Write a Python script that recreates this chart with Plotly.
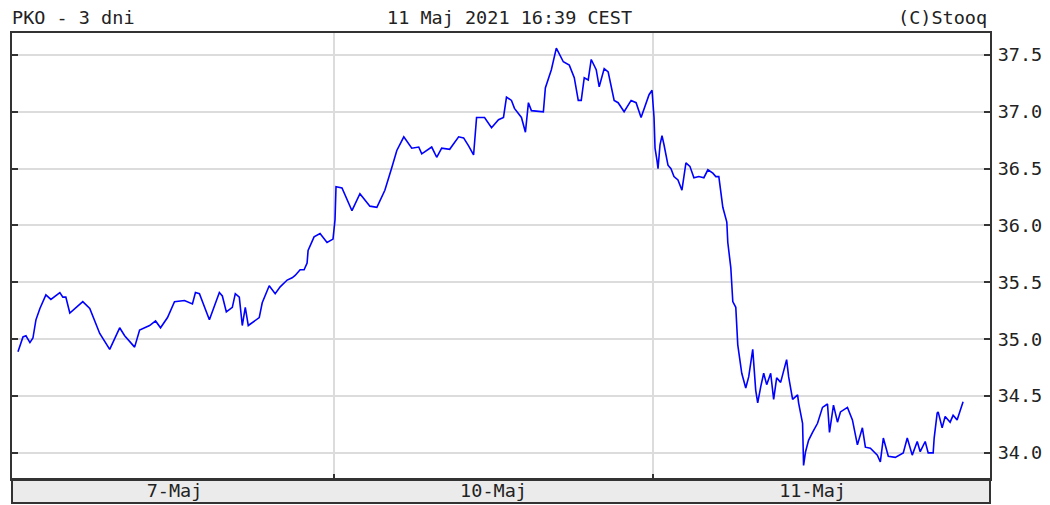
import plotly.graph_objects as go

# Trading-time minutes since 7-Maj 9:00 (480 min per session)
minutes = [4.5, 7.5, 12, 16.5, 22.5, 27, 31.5, 37.5, 46.5, 54, 67.5, 72, 76.5, 82.5, 102, 112.5,
           127.5, 142.5, 157.5, 165, 180, 187.5, 202.5, 211.5, 219, 229.5, 240, 255, 267, 271.5,
           277.5, 292.5, 307.5, 312, 318, 327, 331.5, 337.5, 342, 346.5, 351, 367.5, 372, 382.5,
           391.5, 399, 409.5, 417, 421.5, 429, 435, 439.5, 441, 450, 459, 469.5, 478.5,
           481.5, 483, 492, 496.5, 507, 519, 534, 544.5, 556.5, 567, 574.5, 585, 597, 607.5, 612,
           627, 634.5, 642, 654, 667.5, 675, 682.5, 690, 694.5, 706.5, 717, 727.5, 735, 739.5,
           747, 751.5, 762, 768, 772.5, 777, 795, 798, 807, 814.5, 825, 834, 841.5, 847.5, 852,
           856.5, 862.5, 867, 874.5, 879, 886.5, 892.5, 901.5, 907.5, 916.5, 927, 934.5, 942,
           954, 958.5, 961.5, 963, 966, 967.5, 970.5, 973.5, 976.5, 982.5, 987, 991.5, 997.5,
           1003.5, 1009.5, 1015.5, 1021.5, 1029, 1036.5, 1042.5, 1050, 1054.5, 1059, 1065, 1071,
           1072.5, 1077, 1080, 1084.5, 1087.5, 1093.5, 1099.5, 1104, 1110, 1114.5, 1117.5, 1122,
           1126.5, 1131, 1137, 1141.5, 1146, 1152, 1161, 1164, 1170, 1177.5, 1179, 1185, 1186.5,
           1189.5, 1194, 1200, 1207.5, 1215, 1222.5, 1225.5, 1231.5, 1237.5, 1242, 1252.5, 1260,
           1267.5, 1275, 1279.5, 1287, 1297.5, 1302, 1306.5, 1314, 1324.5, 1336.5, 1342.5, 1350,
           1357.5, 1362, 1369.5, 1374, 1381.5, 1383, 1387.5, 1389, 1395, 1399.5, 1407, 1411.5,
           1417.5, 1422, 1426.5]

price = [34.89, 34.95, 35.02, 35.03, 34.97, 35.01, 35.17, 35.27, 35.39, 35.35, 35.41, 35.37, 35.37,
         35.23, 35.33, 35.27, 35.05, 34.91, 35.10, 35.03, 34.93, 35.08, 35.12, 35.16, 35.10, 35.19,
         35.33, 35.34, 35.31, 35.41, 35.40, 35.17, 35.41, 35.38, 35.24, 35.28, 35.40, 35.37, 35.12,
         35.28, 35.12, 35.19, 35.32, 35.47, 35.40, 35.46, 35.52, 35.54, 35.56, 35.61, 35.61, 35.67,
         35.78, 35.90, 35.93, 35.85, 35.88,
         36.05, 36.34, 36.33, 36.27, 36.13, 36.28, 36.17, 36.16, 36.31, 36.51, 36.66, 36.78, 36.68,
         36.69, 36.63, 36.69, 36.60, 36.68, 36.67, 36.78, 36.77, 36.70, 36.62, 36.95, 36.95, 36.86,
         36.93, 36.95, 37.13, 37.10, 37.03, 36.95, 36.82, 37.08, 37.01, 37.00, 37.21, 37.37, 37.56,
         37.44, 37.41, 37.30, 37.10, 37.10, 37.30, 37.28, 37.46, 37.37, 37.22, 37.38, 37.35, 37.10,
         37.08, 37.00, 37.10, 37.08, 36.95, 37.15, 37.19, 36.95, 36.68, 36.57, 36.50, 36.71, 36.79,
         36.71, 36.53, 36.50, 36.43, 36.40, 36.31, 36.55, 36.52, 36.42, 36.43, 36.42, 36.49, 36.46,
         36.43, 36.43, 36.16, 36.03, 35.85, 35.63, 35.33, 35.28, 34.95, 34.70, 34.57, 34.67, 34.91,
         34.55, 34.44, 34.58, 34.70, 34.60, 34.70, 34.47, 34.66, 34.62, 34.82, 34.67, 34.47, 34.51,
         34.44, 34.26, 33.89, 34.01, 34.11, 34.18, 34.26, 34.40, 34.43, 34.18, 34.42, 34.27, 34.36,
         34.40, 34.29, 34.07, 34.22, 34.05, 34.04, 33.98, 33.92, 34.13, 33.97, 33.96, 34.00, 34.13,
         33.98, 34.10, 34.01, 34.10, 34.00, 34.00, 34.13, 34.35, 34.36, 34.22, 34.32, 34.27, 34.33,
         34.29, 34.38, 34.45]

day_labels = ["7-Maj", "10-Maj", "11-Maj"]
day_centers = [240, 720, 1200]
day_bounds = [480, 960]
y_ticks = [34.0, 34.5, 35.0, 35.5, 36.0, 36.5, 37.0, 37.5]

FONT = "DejaVu Sans Mono"
FS = 18.5
TXT = "#222222"

fig = go.Figure()
fig.add_trace(go.Scatter(x=minutes, y=price, mode="lines",
                         line=dict(color="#0000FF", width=1.6), hoverinfo="skip",
                         showlegend=False))

# page has an 8px body margin, so the figure is sized/positioned to compensate
fig.update_layout(
    width=1042, height=497,
    margin=dict(l=4, r=60, t=25, b=26, autoexpand=False),
    paper_bgcolor="white", plot_bgcolor="white",
    font=dict(family=FONT, size=FS, color=TXT),
    xaxis=dict(
        range=[-4.5, 1467], automargin=False,
        tickmode="array", tickvals=day_centers, ticktext=day_labels,
        ticks="", showgrid=False, zeroline=False, ticklabelstandoff=-6,
        showline=True, linecolor="#333333", linewidth=2, mirror=True,
        tickfont=dict(family=FONT, size=FS, color=TXT),
        minor=dict(tickmode="array", tickvals=day_bounds, showgrid=True,
                   gridcolor="#dcdcdc", gridwidth=1.5,
                   ticks="inside", ticklen=5, tickcolor="#333333", tickwidth=2),
        fixedrange=True,
    ),
    yaxis=dict(
        range=[33.77, 37.693], side="right", automargin=False,
        tickmode="array", tickvals=y_ticks, tickformat=".1f",
        ticks="inside", ticklen=6, tickwidth=2, tickcolor="#333333",
        ticklabelstandoff=2,
        showgrid=True, gridcolor="#dcdcdc", gridwidth=1.5, zeroline=False,
        showline=True, linecolor="#333333", linewidth=2, mirror="ticks",
        tickfont=dict(family=FONT, size=FS, color=TXT),
        fixedrange=True,
    ),
    shapes=[dict(type="rect", xref="paper", yref="paper", x0=0, x1=1,
                 y0=-24 / 446, y1=0, fillcolor="#ebebeb",
                 line=dict(color="#333333", width=2), layer="below")],
    annotations=[
        dict(text="PKO - 3 dni", xref="paper", yref="paper", x=-0.002, y=1.035,
             xanchor="left", yanchor="middle", showarrow=False,
             font=dict(family=FONT, size=FS, color=TXT)),
        dict(text="11 Maj 2021 16:39 CEST", xref="paper", yref="paper", x=0.5087, y=1.035,
             xanchor="center", yanchor="middle", showarrow=False,
             font=dict(family=FONT, size=FS, color=TXT)),
        dict(text="(C)Stooq", xref="paper", yref="paper", x=0.999, y=1.035,
             xanchor="right", yanchor="middle", showarrow=False,
             font=dict(family=FONT, size=FS, color=TXT)),
    ],
)

fig.write_html("out.html")
